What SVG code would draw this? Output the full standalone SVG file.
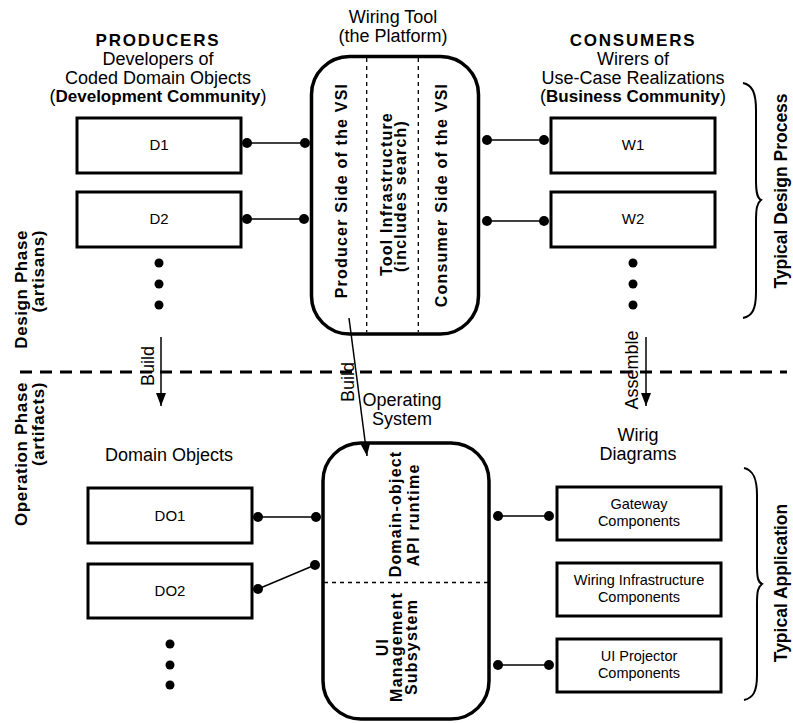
<svg xmlns="http://www.w3.org/2000/svg" width="793" height="723" viewBox="0 0 793 723">
  <style>
    text { font-family: "Liberation Sans", Arial, Helvetica, sans-serif; fill: #000; }
    .hdr { font-size: 18px; text-anchor: middle; }
    .hdrb { font-size: 17px; font-weight: bold; text-anchor: middle; letter-spacing: 1.8px; }
    .lbl { font-size: 15px; text-anchor: middle; }
    .lbl2 { font-size: 14.5px; text-anchor: middle; }
    .vb { font-size: 16px; font-weight: bold; letter-spacing: 1.2px; text-anchor: middle; }
    .side { font-size: 17.5px; font-weight: bold; text-anchor: middle; }
    .phase { font-size: 17px; font-weight: bold; letter-spacing: 0.6px; text-anchor: end; }
    .arrlbl { font-size: 18px; text-anchor: middle; }
    .box { fill: #fff; stroke: #000; stroke-width: 3; }
    .round { fill: #fff; stroke: #000; stroke-width: 3.5; }
    .inner { stroke: #000; stroke-width: 1.3; stroke-dasharray: 4 4; fill: none; }
    .wire { stroke: #000; stroke-width: 1.5; fill: none; }
    .arrow { stroke: #000; stroke-width: 1.5; fill: none; marker-end: url(#head); }
    .brace { stroke: #000; stroke-width: 2; fill: none; }
    .dot { fill: #000; }
  </style>
  <defs>
    <marker id="head" markerUnits="userSpaceOnUse" markerWidth="13" markerHeight="10" refX="13" refY="5" orient="auto">
      <path d="M0,0 L13,5 L0,10 z" fill="#000"/>
    </marker>
  </defs>

  <!-- phase separator -->
  <line x1="20" y1="372" x2="787" y2="372" stroke="#000" stroke-width="3" stroke-dasharray="12 8"/>

  <!-- phase labels -->
  <g id="phase-labels">
    <text class="phase" transform="translate(27,230) rotate(-90)">Design Phase</text>
    <text class="phase" transform="translate(44,230) rotate(-90)">(artisans)</text>
    <text class="phase" transform="translate(27,382) rotate(-90)">Operation Phase</text>
    <text class="phase" transform="translate(44,382) rotate(-90)">(artifacts)</text>
  </g>

  <!-- column headers -->
  <g id="producers-header">
    <text class="hdrb" x="158" y="46">PRODUCERS</text>
    <text class="hdr" x="158" y="65">Developers of</text>
    <text class="hdr" x="158" y="84">Coded Domain Objects</text>
    <text class="hdr" x="158" y="102">(<tspan font-weight="bold" font-size="17px">Development Community</tspan>)</text>
  </g>
  <g id="platform-header">
    <text class="hdr" x="393" y="23">Wiring Tool</text>
    <text class="hdr" x="393" y="42">(the Platform)</text>
  </g>
  <g id="consumers-header">
    <text class="hdrb" x="633" y="46">CONSUMERS</text>
    <text class="hdr" x="633" y="65">Wirers of</text>
    <text class="hdr" x="633" y="84">Use-Case Realizations</text>
    <text class="hdr" x="633" y="102">(<tspan font-weight="bold" font-size="17px">Business Community</tspan>)</text>
  </g>

  <!-- wiring tool platform -->
  <g id="platform">
    <rect class="round" x="311.5" y="56.5" width="167" height="277.5" rx="38" ry="38"/>
    <line class="inner" x1="366.7" y1="58" x2="366.7" y2="332"/>
    <line class="inner" x1="418.3" y1="58" x2="418.3" y2="332"/>
    <text class="vb" transform="translate(347,190.5) rotate(-90)">Producer Side of the VSI</text>
    <text class="vb" transform="translate(392,194) rotate(-90)">Tool Infrastructure</text>
    <text class="vb" transform="translate(406,196) rotate(-90)">(includes search)</text>
    <text class="vb" transform="translate(447,195) rotate(-90)">Consumer Side of the VSI</text>
  </g>

  <!-- producer nodes -->
  <g id="D1">
    <rect class="box" x="77" y="118" width="164" height="55"/>
    <text class="lbl" x="159" y="150">D1</text>
  </g>
  <g id="D2">
    <rect class="box" x="77" y="192" width="164" height="55"/>
    <text class="lbl" x="159" y="224">D2</text>
  </g>
  <g id="producers-more">
    <circle class="dot" cx="159" cy="263" r="4.5"/>
    <circle class="dot" cx="159" cy="284" r="4.5"/>
    <circle class="dot" cx="159" cy="305" r="4.5"/>
  </g>

  <!-- consumer nodes -->
  <g id="W1">
    <rect class="box" x="551" y="118" width="164" height="55"/>
    <text class="lbl" x="633" y="150">W1</text>
  </g>
  <g id="W2">
    <rect class="box" x="551" y="192" width="164" height="55"/>
    <text class="lbl" x="633" y="224">W2</text>
  </g>
  <g id="consumers-more">
    <circle class="dot" cx="633" cy="263" r="4.5"/>
    <circle class="dot" cx="633" cy="284" r="4.5"/>
    <circle class="dot" cx="633" cy="305" r="4.5"/>
  </g>

  <!-- design process brace -->
  <g id="design-brace">
    <path class="brace" d="M743,83 C752,85 756,92 756,110 L756,180 C756,192 757,198 761,200 C757,203 756,208 756,222 L756,292 C756,310 752,316 743,318"/>
    <text class="side" transform="translate(787,191) rotate(-90)">Typical Design Process</text>
  </g>

  <!-- operation phase headers -->
  <g id="domain-objects-header">
    <text class="hdr" x="169" y="461">Domain Objects</text>
  </g>
  <g id="os-header">
    <text class="hdr" x="402" y="406">Operating</text>
    <text class="hdr" x="402" y="425">System</text>
  </g>
  <g id="wiring-diagrams-header">
    <text class="hdr" x="638" y="441">Wirig</text>
    <text class="hdr" x="638" y="460">Diagrams</text>
  </g>

  <!-- operating system -->
  <g id="operating-system">
    <rect class="round" x="323" y="443" width="166" height="276" rx="38" ry="38"/>
    <line class="inner" x1="324" y1="582.5" x2="488" y2="582.5"/>
    <text class="vb" transform="translate(401,514) rotate(-90)">Domain-object</text>
    <text class="vb" transform="translate(418.5,515) rotate(-90)">API runtime</text>
    <text class="vb" transform="translate(387.5,647) rotate(-90)">UI</text>
    <text class="vb" transform="translate(401.5,647) rotate(-90)">Management</text>
    <text class="vb" transform="translate(416.5,647) rotate(-90)">Subsystem</text>
  </g>

  <!-- domain objects -->
  <g id="DO1">
    <rect class="box" x="88" y="488" width="164" height="55"/>
    <text class="lbl" x="170" y="521">DO1</text>
  </g>
  <g id="DO2">
    <rect class="box" x="88" y="564" width="164" height="54"/>
    <text class="lbl" x="170" y="596">DO2</text>
  </g>
  <g id="domain-objects-more">
    <circle class="dot" cx="170" cy="644" r="4.5"/>
    <circle class="dot" cx="170" cy="665" r="4.5"/>
    <circle class="dot" cx="170" cy="685" r="4.5"/>
  </g>

  <!-- wiring diagram components -->
  <g id="gateway">
    <rect class="box" x="557" y="487" width="164" height="53"/>
    <text class="lbl2" x="639" y="509">Gateway</text>
    <text class="lbl2" x="639" y="526">Components</text>
  </g>
  <g id="wiring-infrastructure">
    <rect class="box" x="557" y="563" width="164" height="53"/>
    <text class="lbl2" x="639" y="585">Wiring Infrastructure</text>
    <text class="lbl2" x="639" y="602">Components</text>
  </g>
  <g id="ui-projector">
    <rect class="box" x="557" y="639" width="164" height="53"/>
    <text class="lbl2" x="639" y="661">UI Projector</text>
    <text class="lbl2" x="639" y="678">Components</text>
  </g>

  <!-- application brace -->
  <g id="application-brace">
    <path class="brace" d="M744,468 C753,470 757,478 757,495 L757,565 C757,578 758,582 762,584 C758,587 757,591 757,604 L757,675 C757,692 753,698 744,700"/>
    <text class="side" transform="translate(787,583) rotate(-90)">Typical Application</text>
  </g>

  <!-- connectors -->
  <g id="connectors">
    <line class="wire" x1="247" y1="143" x2="305" y2="143"/>
    <circle class="dot" cx="247" cy="143" r="5"/>
    <circle class="dot" cx="305" cy="143" r="5"/>

    <line class="wire" x1="247" y1="219" x2="304" y2="219"/>
    <circle class="dot" cx="247" cy="219" r="5"/>
    <circle class="dot" cx="304" cy="219" r="5"/>

    <line class="wire" x1="487" y1="140" x2="544" y2="140"/>
    <circle class="dot" cx="487" cy="140" r="5"/>
    <circle class="dot" cx="544" cy="140" r="5"/>

    <line class="wire" x1="487" y1="221" x2="544" y2="221"/>
    <circle class="dot" cx="487" cy="221" r="5"/>
    <circle class="dot" cx="544" cy="221" r="5"/>

    <line class="wire" x1="258" y1="517" x2="316" y2="517"/>
    <circle class="dot" cx="258" cy="517" r="5"/>
    <circle class="dot" cx="316" cy="517" r="5"/>

    <line class="wire" x1="258" y1="589" x2="315" y2="565"/>
    <circle class="dot" cx="258" cy="589" r="5"/>
    <circle class="dot" cx="315" cy="565" r="5"/>

    <line class="wire" x1="498" y1="516" x2="549" y2="516"/>
    <circle class="dot" cx="498" cy="516" r="5"/>
    <circle class="dot" cx="549" cy="516" r="5"/>

    <line class="wire" x1="498" y1="665" x2="549" y2="665"/>
    <circle class="dot" cx="498" cy="665" r="5"/>
    <circle class="dot" cx="549" cy="665" r="5"/>

    <!-- phase transitions -->
    <line class="arrow" x1="161" y1="337" x2="161" y2="406"/>
    <text class="arrlbl" transform="translate(154,366) rotate(-90)">Build</text>

    <line class="arrow" x1="349" y1="318" x2="367" y2="456"/>
    <text class="arrlbl" transform="translate(354,382) rotate(-90)">Build</text>

    <line class="arrow" x1="646" y1="337" x2="646" y2="406"/>
    <text class="arrlbl" transform="translate(638,370) rotate(-90)">Assemble</text>
  </g>
</svg>
